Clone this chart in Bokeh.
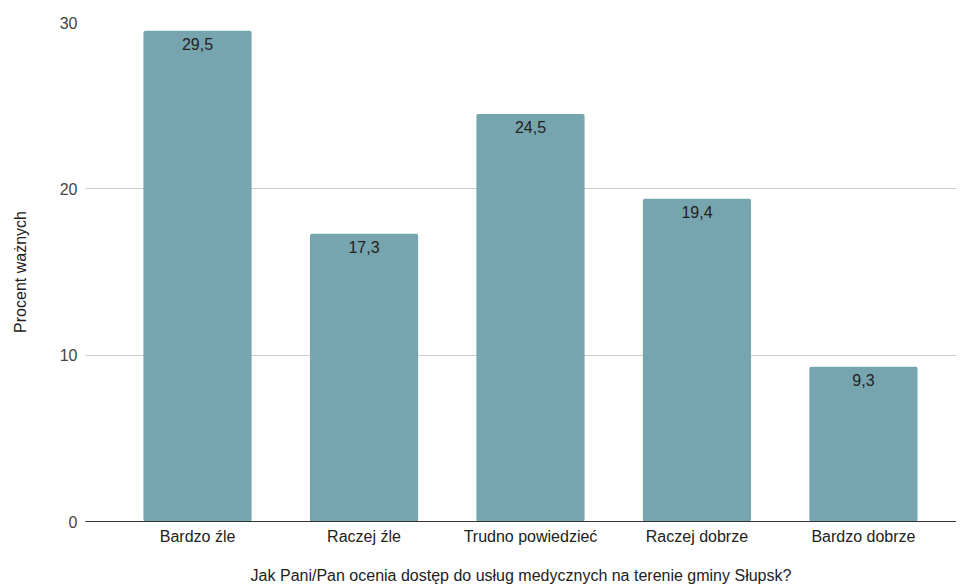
from bokeh.plotting import figure
from bokeh.models import ColumnDataSource, FixedTicker, Range1d
from bokeh.core.properties import value
from bokeh.embed import file_html
from bokeh.resources import INLINE

categories = ["Bardzo źle", "Raczej źle", "Trudno powiedzieć", "Raczej dobrze", "Bardzo dobrze"]
values = [29.5, 17.3, 24.5, 19.4, 9.3]
y_ticks = [0, 10, 20, 30]

xs = list(range(len(categories)))
labels = [f"{v:.1f}".replace(".", ",") for v in values]
src = ColumnDataSource(dict(x=xs, top=values, label=labels))

FONT = "Liberation Sans"

p = figure(width=957, height=587, output_backend="svg", toolbar_location=None,
           x_range=Range1d(-0.673, 4.559), y_range=Range1d(0, 30),
           min_border_left=85, min_border_top=22, min_border_bottom=66, min_border_right=0)
p.frame_width = 871
p.frame_height = 499
p.outline_line_color = None
p.background_fill_color = "white"

p.vbar(x="x", top="top", width=0.65, bottom=0, source=src,
       fill_color="#76a5af", line_color=None, border_radius=2)

p.text(x="x", y="top", text="label", source=src, y_offset=7,
       text_align="center", text_baseline="top",
       text_font=value(FONT), text_font_size="16px", text_color="#222222")

# y axis
p.yaxis.ticker = FixedTicker(ticks=y_ticks)
p.yaxis.axis_line_color = None
p.yaxis.major_tick_line_color = None
p.yaxis.minor_tick_line_color = None
p.yaxis.major_label_text_font = FONT
p.yaxis.major_label_text_font_size = "16px"
p.yaxis.major_label_text_color = "#444444"
p.yaxis.major_label_standoff = 2
p.yaxis.axis_label = "Procent ważnych"
p.yaxis.axis_label_text_font = FONT
p.yaxis.axis_label_text_font_size = "16px"
p.yaxis.axis_label_text_font_style = "normal"
p.yaxis.axis_label_text_color = "#222222"
p.yaxis.axis_label_standoff = 28

# x axis
p.xaxis.ticker = FixedTicker(ticks=xs)
p.xaxis.major_label_overrides = {i: c for i, c in enumerate(categories)}
p.xaxis.axis_line_color = "#333333"
p.xaxis.axis_line_width = 1
p.xaxis.major_tick_line_color = None
p.xaxis.minor_tick_line_color = None
p.xaxis.major_label_text_font = FONT
p.xaxis.major_label_text_font_size = "16px"
p.xaxis.major_label_text_color = "#222222"
p.xaxis.major_label_standoff = 0
p.xaxis.axis_label = "Jak Pani/Pan ocenia dostęp do usług medycznych na terenie gminy Słupsk?"
p.xaxis.axis_label_text_font = FONT
p.xaxis.axis_label_text_font_size = "16px"
p.xaxis.axis_label_text_font_style = "normal"
p.xaxis.axis_label_text_color = "#222222"
p.xaxis.axis_label_standoff = 19

p.xgrid.grid_line_color = None
p.ygrid.grid_line_color = "#cccccc"
p.ygrid.ticker = FixedTicker(ticks=y_ticks)

open("out.html", "w").write(file_html(p, INLINE))
